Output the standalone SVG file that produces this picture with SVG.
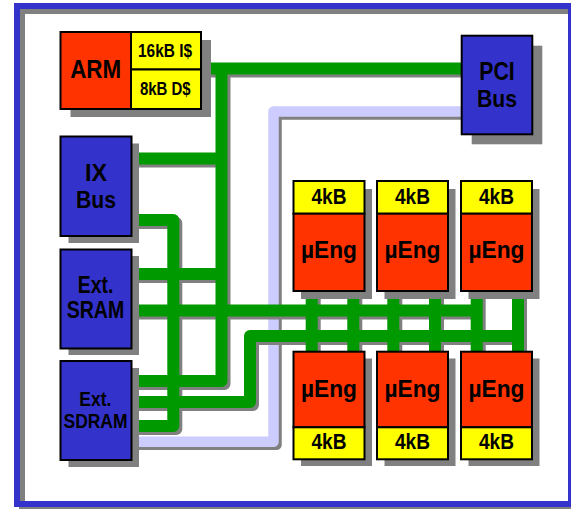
<svg xmlns="http://www.w3.org/2000/svg" width="571" height="509" viewBox="0 0 571 509">
<defs>
<style>
.sh{fill:#808080}
.red{fill:#FF3300;stroke:#000;stroke-width:2}
.yel{fill:#FFFF00;stroke:#000;stroke-width:2}
.blu{fill:#3333CC;stroke:#000;stroke-width:2}
text{font-family:"Liberation Sans",Arial,sans-serif;font-weight:bold;fill:#000;text-anchor:middle}
.g{fill:none;stroke:#009900;stroke-width:12;stroke-linejoin:round}
.gs{fill:none;stroke:#808080;stroke-width:12;stroke-linejoin:round}
.lv{fill:none;stroke:#CCCCFF;stroke-width:10.5;stroke-linejoin:round}
.ls{fill:none;stroke:#808080;stroke-width:10.5;stroke-linejoin:round}
</style>
</defs>
<rect x="0" y="0" width="571" height="509" fill="#fff"/>
<g id="frame">
<rect x="22" y="11" width="554" height="498" fill="none" stroke="#808080" stroke-width="6"/>
<rect x="17" y="6" width="554" height="498" fill="none" stroke="#3333CC" stroke-width="6"/>
</g>
<g id="connectors">
<g transform="translate(3,3)">
<path class="ls" d="M462 111.5H273.5V441.7H120"/>
</g>
<path class="lv" d="M462 111.5H273.5V441.7H120"/>
<g transform="translate(3,3)">
<path class="gs" d="M200 68.5H462"/>
<path class="gs" d="M221.5 68.5V381H120"/>
<path class="gs" d="M120 158.5H221.5"/>
<path class="gs" d="M120 274H221.5"/>
<path class="gs" d="M120 220H173.3V426H120"/>
<path class="gs" d="M120 310.5H476.7"/>
<path class="gs" d="M120 402H250V336H518"/>
<path class="gs" d="M311.7 290V352M353.3 290V352M393.3 290V352M435 290V352M476.7 290V352M518 290V352"/>
</g>
<path class="g" d="M200 68.5H462"/>
<path class="g" d="M221.5 68.5V381H120"/>
<path class="g" d="M120 158.5H221.5"/>
<path class="g" d="M120 274H221.5"/>
<path class="g" d="M120 220H173.3V426H120"/>
<path class="g" d="M120 310.5H476.7"/>
<path class="g" d="M120 402H250V336H518"/>
<path class="g" d="M311.7 290V352M353.3 290V352M393.3 290V352M435 290V352M476.7 290V352M518 290V352"/>
</g>
<g id="arm">
<rect class="sh" x="70.5" y="40" width="140.5" height="77"/>
<rect class="red" x="60.5" y="32" width="70.5" height="77"/>
<rect class="yel" x="131" y="32" width="70" height="37.5"/>
<rect class="yel" x="131" y="69.5" width="70" height="39.5"/>
<text x="95.7" y="78.3" font-size="25" textLength="51" lengthAdjust="spacingAndGlyphs">ARM</text>
<text x="165" y="57.3" font-size="18" textLength="54" lengthAdjust="spacingAndGlyphs">16kB I$</text>
<text x="165.3" y="95" font-size="18" textLength="50.7" lengthAdjust="spacingAndGlyphs">8kB D$</text>
</g>
<g id="pci">
<rect class="sh" x="471.7" y="45.7" width="70.6" height="98.6"/>
<rect class="blu" x="461.7" y="35.7" width="70.6" height="98.6"/>
<text x="497" y="80" font-size="25" textLength="35.3" lengthAdjust="spacingAndGlyphs">PCI</text>
<text x="497" y="106.7" font-size="24.5" textLength="40" lengthAdjust="spacingAndGlyphs">Bus</text>
</g>
<g id="ixbus">
<rect class="sh" x="68.5" y="143.5" width="70.5" height="99.5"/>
<rect class="blu" x="60.5" y="136.5" width="71" height="99.5"/>
<text x="96" y="181" font-size="24.5" textLength="22" lengthAdjust="spacingAndGlyphs">IX</text>
<text x="96" y="208.3" font-size="24.5" textLength="40" lengthAdjust="spacingAndGlyphs">Bus</text>
</g>
<g id="sram">
<rect class="sh" x="68.5" y="256" width="70.5" height="99"/>
<rect class="blu" x="60.5" y="249.5" width="71" height="99"/>
<text x="95.5" y="293.3" font-size="23" textLength="35.6" lengthAdjust="spacingAndGlyphs">Ext.</text>
<text x="95.5" y="317.7" font-size="23" textLength="57.6" lengthAdjust="spacingAndGlyphs">SRAM</text>
</g>
<g id="sdram">
<rect class="sh" x="68.5" y="368" width="70.5" height="99"/>
<rect class="blu" x="60.5" y="361" width="71" height="99"/>
<text x="95.3" y="405.7" font-size="19.5" textLength="32" lengthAdjust="spacingAndGlyphs">Ext.</text>
<text x="95.5" y="427.7" font-size="21" textLength="64" lengthAdjust="spacingAndGlyphs">SDRAM</text>
</g>
<g id="ueng1">
<rect class="sh" x="301" y="189" width="71" height="110"/>
<rect class="yel" x="293.5" y="181" width="71" height="32.7"/>
<rect class="red" x="293.5" y="213.7" width="71" height="77.3"/>
<text x="329" y="204.3" font-size="22" textLength="35" lengthAdjust="spacingAndGlyphs">4kB</text>
<text x="329" y="258" font-size="24" textLength="56" lengthAdjust="spacingAndGlyphs">µEng</text>
</g>
<g id="ueng2">
<rect class="sh" x="384.5" y="189" width="71" height="110"/>
<rect class="yel" x="377" y="181" width="71" height="32.7"/>
<rect class="red" x="377" y="213.7" width="71" height="77.3"/>
<text x="412.5" y="204.3" font-size="22" textLength="35" lengthAdjust="spacingAndGlyphs">4kB</text>
<text x="412.5" y="258" font-size="24" textLength="56" lengthAdjust="spacingAndGlyphs">µEng</text>
</g>
<g id="ueng3">
<rect class="sh" x="468.5" y="189" width="71" height="110"/>
<rect class="yel" x="461" y="181" width="71" height="32.7"/>
<rect class="red" x="461" y="213.7" width="71" height="77.3"/>
<text x="496.5" y="204.3" font-size="22" textLength="35" lengthAdjust="spacingAndGlyphs">4kB</text>
<text x="496.5" y="258" font-size="24" textLength="56" lengthAdjust="spacingAndGlyphs">µEng</text>
</g>
<g id="ueng4">
<rect class="sh" x="301" y="358.5" width="71" height="107.5"/>
<rect class="red" x="293.5" y="351.7" width="71" height="75.6"/>
<rect class="yel" x="293.5" y="427.3" width="71" height="32"/>
<text x="329" y="396.7" font-size="24" textLength="56" lengthAdjust="spacingAndGlyphs">µEng</text>
<text x="329" y="449" font-size="22" textLength="35" lengthAdjust="spacingAndGlyphs">4kB</text>
</g>
<g id="ueng5">
<rect class="sh" x="384.5" y="358.5" width="71" height="107.5"/>
<rect class="red" x="377" y="351.7" width="71" height="75.6"/>
<rect class="yel" x="377" y="427.3" width="71" height="32"/>
<text x="412.5" y="396.7" font-size="24" textLength="56" lengthAdjust="spacingAndGlyphs">µEng</text>
<text x="412.5" y="449" font-size="22" textLength="35" lengthAdjust="spacingAndGlyphs">4kB</text>
</g>
<g id="ueng6">
<rect class="sh" x="468.5" y="358.5" width="71" height="107.5"/>
<rect class="red" x="461" y="351.7" width="71" height="75.6"/>
<rect class="yel" x="461" y="427.3" width="71" height="32"/>
<text x="496.5" y="396.7" font-size="24" textLength="56" lengthAdjust="spacingAndGlyphs">µEng</text>
<text x="496.5" y="449" font-size="22" textLength="35" lengthAdjust="spacingAndGlyphs">4kB</text>
</g>
</svg>
